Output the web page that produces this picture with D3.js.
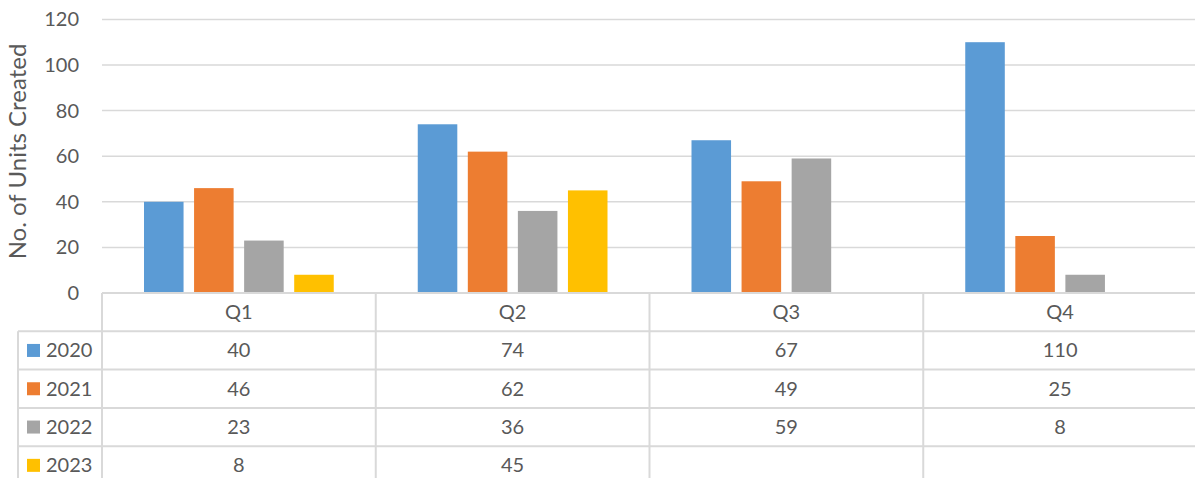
<!DOCTYPE html>
<html>
<head>
<meta charset="utf-8">
<script src="https://cdn.jsdelivr.net/npm/d3@7"></script>
<style>
  body { margin: 0; background: #fff; }
  text { font-family: Lato, "Open Sans", sans-serif; fill: #595959; }
</style>
</head>
<body>
<div id="chart"></div>
<script>
// Chart data
var quarters = ["Q1", "Q2", "Q3", "Q4"];
var years = ["2020", "2021", "2022", "2023"];
var colors = ["#5B9BD5", "#ED7D31", "#A5A5A5", "#FFC000"];
var values2020 = [40, 74, 67, 110];
var values2021 = [46, 62, 49, 25];
var values2022 = [23, 36, 59, 8];
var values2023 = [8, 45, null, null];
var yTicks = [0, 20, 40, 60, 80, 100, 120];

var seriesValues = [values2020, values2021, values2022, values2023];

var svgWidth = 1195;
var svgHeight = 478;

var plotLeft = 102, plotRight = 1197, plotTop = 19.4, plotBottom = 293;
var rowHeight = 38.3;
var gridColor = "#d9d9d9";
var fontSize = "20px";

var svg = d3.select("#chart")
  .append("svg")
  .attr("width", svgWidth)
  .attr("height", svgHeight);

// Scales
var yScale = d3.scaleLinear()
  .domain([0, 120])
  .range([plotBottom, plotTop]);

var xScale = d3.scaleBand()
  .domain(quarters)
  .range([plotLeft, plotRight])
  .padding(0);

var inner = 42;
var xSub = d3.scaleBand()
  .domain(years)
  .range([inner, xScale.bandwidth() - inner])
  .paddingInner(0.21)
  .paddingOuter(0);

// Gridlines
svg.append("g")
  .selectAll("line")
  .data(yTicks.filter(d => d > 0))
  .enter()
  .append("line")
  .attr("x1", plotLeft)
  .attr("x2", svgWidth)
  .attr("y1", d => yScale(d))
  .attr("y2", d => yScale(d))
  .attr("stroke", gridColor)
  .attr("stroke-width", 1.5);

// Y axis labels
var leftAxis = d3.axisLeft(yScale).tickValues(yTicks).tickSize(0).tickPadding(23);
var yAxisG = svg.append("g")
  .attr("transform", "translate(" + plotLeft + ",0)")
  .call(leftAxis);
yAxisG.select(".domain").remove();
yAxisG.selectAll("text")
  .style("font-size", fontSize)
  .style("font-family", "Lato, sans-serif")
  .attr("fill", "#595959");

// Axis title
svg.append("text")
  .attr("transform", "rotate(-90)")
  .attr("x", -151.5)
  .attr("y", 26)
  .attr("text-anchor", "middle")
  .style("font-size", "24px")
  .text("No. of Units Created");

// Bars
var series = years.map(function(y, i) {
  return { year: y, color: colors[i], values: seriesValues[i] };
});

series.forEach(function(s) {
  svg.append("g")
    .selectAll("rect")
    .data(quarters.map((q, j) => ({ q: q, v: s.values[j] })).filter(d => d.v != null))
    .enter()
    .append("rect")
    .attr("x", d => xScale(d.q) + xSub(s.year))
    .attr("width", xSub.bandwidth())
    .attr("y", d => yScale(d.v))
    .attr("height", d => yScale(0) - yScale(d.v))
    .attr("fill", s.color);
});

// Data table
var table = svg.append("g");
var tableBottom = plotBottom + rowHeight * 5;
var legendLeft = 18;

// horizontal lines
table.append("line")
  .attr("x1", plotLeft).attr("x2", svgWidth)
  .attr("y1", plotBottom).attr("y2", plotBottom)
  .attr("stroke", gridColor).attr("stroke-width", 2);

d3.range(1, 5).forEach(function(r) {
  table.append("line")
    .attr("x1", legendLeft).attr("x2", svgWidth)
    .attr("y1", plotBottom + r * rowHeight).attr("y2", plotBottom + r * rowHeight)
    .attr("stroke", gridColor).attr("stroke-width", 2);
});

// vertical lines
table.append("line")
  .attr("x1", legendLeft).attr("x2", legendLeft)
  .attr("y1", plotBottom + rowHeight).attr("y2", tableBottom)
  .attr("stroke", gridColor).attr("stroke-width", 2);

quarters.forEach(function(q) {
  table.append("line")
    .attr("x1", xScale(q)).attr("x2", xScale(q))
    .attr("y1", plotBottom).attr("y2", tableBottom)
    .attr("stroke", gridColor).attr("stroke-width", 2);
});

// header
table.selectAll(".qlabel")
  .data(quarters)
  .enter()
  .append("text")
  .attr("x", d => xScale(d) + xScale.bandwidth() / 2)
  .attr("y", plotBottom + rowHeight / 2)
  .attr("dy", "0.35em")
  .attr("text-anchor", "middle")
  .style("font-size", fontSize)
  .text(d => d);

// rows
series.forEach(function(s, i) {
  var cy = plotBottom + rowHeight * (i + 1) + rowHeight / 2;
  table.append("rect")
    .attr("x", 27)
    .attr("y", cy - 6.5)
    .attr("width", 13)
    .attr("height", 13)
    .attr("fill", s.color);
  table.append("text")
    .attr("x", 46)
    .attr("y", cy)
    .attr("dy", "0.35em")
    .style("font-size", fontSize)
    .text(s.year);
  table.selectAll(null)
    .data(quarters.map((q, j) => ({ q: q, v: s.values[j] })).filter(d => d.v != null))
    .enter()
    .append("text")
    .attr("x", d => xScale(d.q) + xScale.bandwidth() / 2)
    .attr("y", cy)
    .attr("dy", "0.35em")
    .attr("text-anchor", "middle")
    .style("font-size", fontSize)
    .text(d => d.v);
});
</script>
</body>
</html>
